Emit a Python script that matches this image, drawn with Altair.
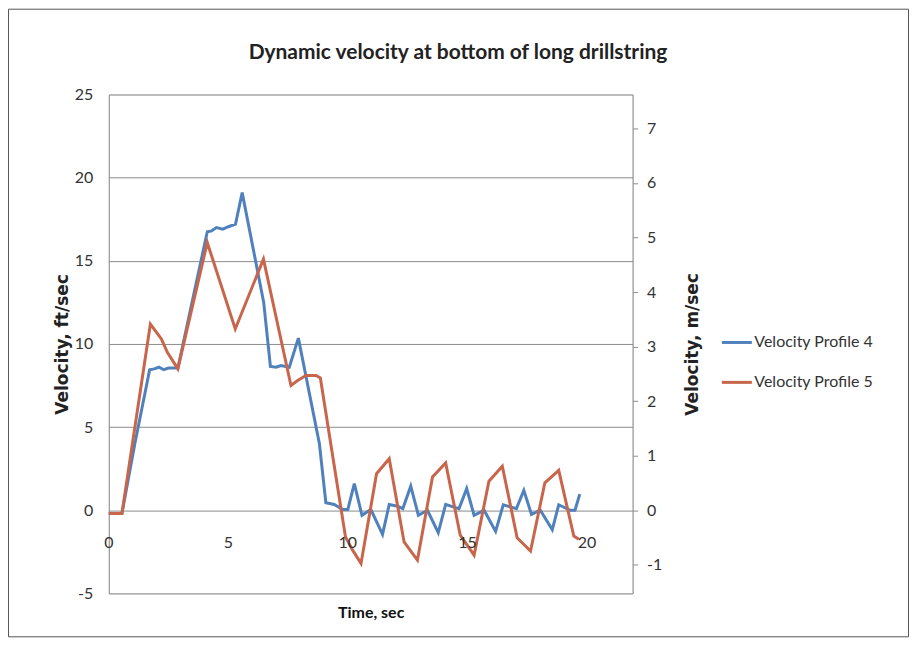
import altair as alt
import pandas as pd

# ---- data ----
series_names = ["Velocity Profile 4", "Velocity Profile 5"]
series_colors = ["#4F81BD", "#C8654A"]

t4 = [0, 0.55, 1.09, 1.71, 1.9, 2.1, 2.3, 2.5, 2.89, 4.12, 4.3, 4.5, 4.77, 5.0, 5.3, 5.58,
      6.48, 6.76, 7.0, 7.2, 7.55, 7.93, 8.81, 9.08, 9.43, 9.78, 10.0, 10.27, 10.59, 10.96,
      11.45, 11.73, 12.07, 12.3, 12.63, 12.95, 13.33, 13.78, 14.09, 14.4, 14.65, 14.97,
      15.28, 15.7, 16.18, 16.5, 16.8, 17.05, 17.36, 17.68, 18.05, 18.55, 18.82, 19.3, 19.5, 19.7]
v4 = [-0.2, -0.2, 4.0, 8.45, 8.5, 8.6, 8.45, 8.55, 8.55, 16.75, 16.8, 17.0, 16.9, 17.05, 17.2, 19.1,
      12.5, 8.65, 8.6, 8.7, 8.6, 10.35, 4.0, 0.45, 0.35, 0.05, 0.05, 1.6, -0.3, 0.05,
      -1.45, 0.35, 0.25, 0.1, 1.45, -0.3, 0.0, -1.35, 0.35, 0.2, 0.1, 1.3,
      -0.3, 0.0, -1.27, 0.33, 0.2, 0.1, 1.2, -0.25, 0.0, -1.17, 0.33, 0.0, 0.0, 0.97]

t5 = [0, 0.55, 1.74, 2.2, 2.45, 2.89, 4.12, 5.29, 6.47, 7.62, 7.9, 8.25, 8.67, 8.85, 9.9,
      10.2, 10.55, 11.2, 11.73, 12.35, 12.91, 13.54, 14.09, 14.7, 15.28, 15.9, 16.46, 17.08,
      17.64, 18.24, 18.82, 19.45, 19.66]
v5 = [-0.2, -0.2, 11.2, 10.3, 9.5, 8.5, 16.1, 10.9, 15.1, 7.5, 7.8, 8.1, 8.1, 7.95, -1.6,
      -2.4, -3.2, 2.2, 3.1, -1.9, -3.0, 2.0, 2.85, -1.5, -2.7, 1.75, 2.65, -1.65,
      -2.45, 1.65, 2.4, -1.55, -1.75]

x_ticks = [0, 5, 10, 15, 20]
ft_ticks = [-5, 0, 5, 10, 15, 20, 25]
m_ticks = [-1, 0, 1, 2, 3, 4, 5, 6, 7]
ft_domain = [-5, 25]
FT_TO_M = 0.3048
x_max = 21.91
chart_title = "Dynamic velocity at bottom of long drillstring"

df = pd.concat([
    pd.DataFrame({"t": t4, "v": v4, "series": series_names[0]}),
    pd.DataFrame({"t": t5, "v": v5, "series": series_names[1]}),
], ignore_index=True)

GRID = "#8c8c8c"
LABEL = "#333333"
HYPHEN_LABEL = "datum.value < 0 ? '-' + abs(datum.value) : '' + datum.value"

x_scale = alt.Scale(domain=[0, x_max], nice=False, zero=False)
x_enc = alt.X("t:Q", scale=x_scale,
              axis=alt.Axis(title="Time, sec", labels=False, ticks=False, domain=False, grid=False,
                            titleFont="Lato", titleFontWeight="bold", titleFontSize=16,
                            titleColor="#111111", titlePadding=11))

lines = alt.Chart(df).mark_line(strokeWidth=3).encode(
    x=x_enc,
    y=alt.Y("v:Q", scale=alt.Scale(domain=ft_domain, nice=False, zero=False),
            axis=alt.Axis(values=ft_ticks, title="Velocity, ft/sec", grid=True, gridColor=GRID,
                          gridWidth=1, domainColor=GRID, ticks=False, labelPadding=16,
                          labelExpr=HYPHEN_LABEL,
                          labelFont="Lato", labelFontSize=16, labelColor=LABEL,
                          titleFont="DejaVu Sans", titleFontWeight="bold", titleFontSize=17,
                          titleColor="#222222", titlePadding=3)),
    color=alt.Color("series:N", scale=alt.Scale(domain=series_names, range=series_colors),
                    legend=alt.Legend(title=None, orient="none", legendX=613, legendY=232,
                                      symbolType="stroke", symbolSize=900, symbolStrokeWidth=3,
                                      labelFont="Lato", labelFontSize=16, labelColor="#333333",
                                      labelOffset=1, rowPadding=15)),
)

xlabels = alt.Chart(pd.DataFrame({"t": x_ticks})).mark_text(
    font="Lato", fontSize=16, color=LABEL, baseline="middle", align="center"
).encode(x=x_enc, y=alt.value(449), text="t:Q")

title_text = alt.Chart(pd.DataFrame({"label": [chart_title]})).mark_text(
    font="Lato", fontSize=21, fontWeight="bold", color="#222222", baseline="middle",
    align="center", clip=False
).encode(x=alt.value(350), y=alt.value(-42), text="label:N")

right_axis = alt.Chart(df).transform_calculate(m=f"datum.v*{FT_TO_M}").mark_line(opacity=0).encode(
    x=x_enc,
    detail="series:N",
    y=alt.Y("m:Q", scale=alt.Scale(domain=[ft_domain[0] * FT_TO_M, ft_domain[1] * FT_TO_M],
                                   nice=False, zero=False),
            axis=alt.Axis(orient="right", values=m_ticks, title="Velocity, m/sec", grid=False,
                          domainColor=GRID, tickColor=GRID, tickSize=5, labelPadding=9,
                          labelExpr=HYPHEN_LABEL,
                          labelFont="Lato", labelFontSize=16, labelColor=LABEL,
                          titleFont="DejaVu Sans", titleFontWeight="bold", titleFontSize=17,
                          titleColor="#222222", titleAngle=270, titlePadding=40)),
)

border = alt.Chart(pd.DataFrame({"a": [0]})).mark_rect(
    fill=None, stroke="#555555", strokeWidth=1, clip=False
).encode(x=alt.value(-100.5), x2=alt.value(801.5), y=alt.value(-85.5), y2=alt.value(543.5))

chart = alt.layer(lines, xlabels, title_text, right_axis, border).resolve_scale(
    y="independent"
).properties(
    width=525, height=500,
    padding={"left": 101, "top": 86, "right": 277, "bottom": 45},
    autosize=alt.AutoSizeParams(type="none"),
).configure_view(stroke=None).configure(background="white")

chart.save("out.html", embed_options={"renderer": "svg", "actions": False})
